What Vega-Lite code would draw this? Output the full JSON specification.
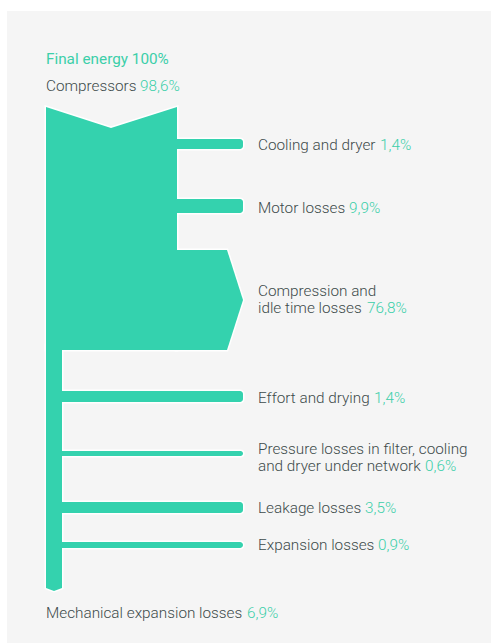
{
  "$schema": "https://vega.github.io/schema/vega-lite/v6.json",
  "width": 491,
  "height": 643,
  "padding": 0,
  "autosize": {"type": "fit", "contains": "padding"},
  "background": "#ffffff",
  "config": {"view": {"stroke": null}},
  "datasets": {
    "panel": [{"x": 7, "x2": 491, "y": 11, "y2": 643}],
    "areas": [
      {"part": "Compressors", "x": 46, "y": 107, "y2": 350},
      {"part": "Compressors", "x": 111, "y": 128, "y2": 350},
      {"part": "Compressors", "x": 177, "y": 107, "y2": 350},
      {"part": "Compression and idle time", "x": 176, "y": 250, "y2": 350},
      {"part": "Compression and idle time", "x": 227, "y": 250, "y2": 350},
      {"part": "Compression and idle time", "x": 243, "y": 300, "y2": 300},
      {"part": "Mechanical expansion", "x": 46, "y": 345, "y2": 588},
      {"part": "Mechanical expansion", "x": 54, "y": 345, "y2": 591},
      {"part": "Mechanical expansion", "x": 62, "y": 345, "y2": 588}
    ],
    "branches": [
      {"part": "Cooling and dryer", "x": 176, "x2": 243, "y": 139, "y2": 149},
      {"part": "Motor losses", "x": 176, "x2": 243, "y": 199, "y2": 213},
      {"part": "Effort and drying", "x": 61, "x2": 243, "y": 391, "y2": 402},
      {"part": "Pressure losses", "x": 61, "x2": 243, "y": 451, "y2": 456},
      {"part": "Leakage losses", "x": 61, "x2": 243, "y": 502, "y2": 513},
      {"part": "Expansion losses", "x": 61, "x2": 243, "y": 542, "y2": 548}
    ],
    "titles": [
      {"label": "Final energy 100%", "x": 46, "y": 64}
    ],
    "labels": [
      {"name": "Compressors", "value": "98,6%", "x": 46, "y": 91, "vx": 140, "vy": 91},
      {"name": "Cooling and dryer", "value": "1,4%", "x": 258, "y": 150, "vx": 380, "vy": 150},
      {"name": "Motor losses", "value": "9,9%", "x": 258, "y": 212.5, "vx": 349, "vy": 212.5},
      {"name": "Compression and\nidle time losses", "value": "76,8%", "x": 258, "y": 296, "vx": 367, "vy": 313},
      {"name": "Effort and drying", "value": "1,4%", "x": 258, "y": 402.5, "vx": 374, "vy": 402.5},
      {"name": "Pressure losses in filter, cooling\nand dryer under network", "value": "0,6%", "x": 258, "y": 454, "vx": 425, "vy": 471},
      {"name": "Leakage losses", "value": "3,5%", "x": 258, "y": 512.5, "vx": 365, "vy": 512.5},
      {"name": "Expansion losses", "value": "0,9%", "x": 258, "y": 550, "vx": 378, "vy": 550},
      {"name": "Mechanical expansion losses", "value": "6,9%", "x": 46, "y": 618, "vx": 247, "vy": 618}
    ]
  },
  "encoding": {
    "x": {"field": "x", "type": "quantitative", "scale": {"domain": [0, 491], "nice": false, "zero": false}, "axis": null},
    "y": {"field": "y", "type": "quantitative", "scale": {"domain": [0, 643], "nice": false, "zero": false, "reverse": true}, "axis": null}
  },
  "layer": [
    {
      "data": {"name": "panel"},
      "mark": {"type": "rect", "fill": "#f5f5f5"},
      "encoding": {"x2": {"field": "x2"}, "y2": {"field": "y2"}}
    },
    {
      "data": {"name": "areas"},
      "mark": {"type": "area", "orient": "vertical", "fill": "#34d2ae", "stroke": "#ffffff", "strokeWidth": 3, "strokeJoin": "miter"},
      "encoding": {"y2": {"field": "y2"}, "detail": {"field": "part"}}
    },
    {
      "data": {"name": "branches"},
      "mark": {"type": "rect", "fill": "#34d2ae", "stroke": "#ffffff", "strokeWidth": 3, "cornerRadiusTopRight": 3, "cornerRadiusBottomRight": 3},
      "encoding": {"x2": {"field": "x2"}, "y2": {"field": "y2"}}
    },
    {
      "data": {"name": "areas"},
      "mark": {"type": "area", "orient": "vertical", "fill": "#34d2ae"},
      "encoding": {"y2": {"field": "y2"}, "detail": {"field": "part"}}
    },
    {
      "data": {"name": "branches"},
      "mark": {"type": "rect", "fill": "#34d2ae", "cornerRadiusTopRight": 3, "cornerRadiusBottomRight": 3},
      "encoding": {"x2": {"field": "x2"}, "y2": {"field": "y2"}}
    },
    {
      "data": {"name": "titles"},
      "mark": {"type": "text", "align": "left", "baseline": "alphabetic", "font": "Roboto", "fontSize": 15.3, "fontWeight": 400, "fill": "#3ccfa9"},
      "encoding": {"text": {"field": "label"}}
    },
    {
      "data": {"name": "labels"},
      "mark": {"type": "text", "align": "left", "baseline": "alphabetic", "font": "Roboto", "fontSize": 15.3, "fontWeight": 300, "fill": "#3d4b4b", "lineBreak": "\n", "lineHeight": 17},
      "encoding": {"text": {"field": "name"}}
    },
    {
      "data": {"name": "labels"},
      "mark": {"type": "text", "align": "left", "baseline": "alphabetic", "font": "Roboto", "fontSize": 15.3, "fontWeight": 300, "fill": "#3ccfa9"},
      "encoding": {
        "x": {"field": "vx", "type": "quantitative"},
        "y": {"field": "vy", "type": "quantitative"},
        "text": {"field": "value"}
      }
    }
  ]
}
